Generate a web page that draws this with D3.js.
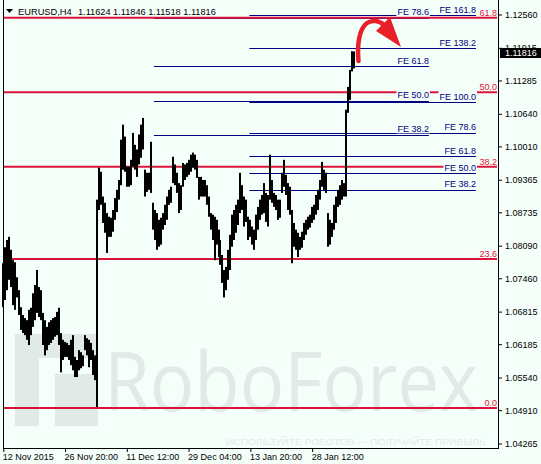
<!DOCTYPE html>
<html><head><meta charset="utf-8">
<script src="https://cdn.jsdelivr.net/npm/d3@7"></script>
<style>
body{margin:0;background:#F5FFFA}
svg{display:block}
text{font-family:"Liberation Sans",Arial,sans-serif}
</style>
</head><body><svg id="c" width="541" height="464"></svg>
<script>
// ---------- data ----------
const symbol = "EURUSD,H4";
const ohlc = [1.11624, 1.11846, 1.11518, 1.11816];
const lastPrice = 1.11816;

const highs = [
1.0775,1.0806,1.0820,1.0826,1.0801,1.0781,1.0777,1.0748,1.0723,1.0690,
1.0675,1.0669,1.0665,1.0685,1.0689,1.0717,1.0733,1.0762,1.0729,1.0723,
1.0679,1.0665,1.0652,1.0661,1.0665,1.0669,1.0671,1.0681,1.0689,1.0640,
1.0627,1.0623,1.0621,1.0617,1.0627,1.0636,1.0594,1.0588,1.0607,1.0603,
1.0597,1.0636,1.0630,1.0627,1.0621,1.0607,1.0597,1.0898,1.0960,1.0952,
1.0904,1.0892,1.0872,1.0865,1.0863,1.0878,1.0901,1.0917,1.0936,1.1014,
1.1043,1.1020,1.0962,1.0962,1.0975,1.1027,1.1004,1.0995,1.1024,1.1043,
1.1056,1.0956,1.0950,1.0950,1.1010,1.0892,1.0878,1.0872,1.0859,1.0863,
1.0872,1.0888,1.0904,1.0917,1.0923,1.0981,1.0966,1.0950,1.0930,1.0926,
1.0969,1.0966,1.0969,1.0975,1.0985,1.0989,1.0985,1.0975,1.0942,1.0942,
1.0936,1.0936,1.0926,1.0904,1.0872,1.0869,1.0865,1.0859,1.0840,1.0820,
1.0791,1.0762,1.0768,1.0801,1.0830,1.0869,1.0878,1.0888,1.0898,1.0950,
1.0926,1.0904,1.0898,1.0865,1.0859,1.0846,1.0840,1.0869,1.0884,1.0898,
1.0907,1.0930,1.0911,1.0907,1.0985,1.0936,1.0911,1.0907,1.0898,1.0898,
1.0950,1.0975,1.0946,1.0930,1.0923,1.0878,1.0853,1.0840,1.0834,1.0826,
1.0836,1.0853,1.0859,1.0865,1.0869,1.0884,1.0888,1.0907,1.0917,1.0936,
1.0971,1.0956,1.0950,1.0872,1.0859,1.0853,1.0888,1.0904,1.0917,1.0926,
1.0936,1.0930,1.1072,1.1116,1.1149,1.1185,1.11846];

const lows = [
1.0690,1.0704,1.0723,1.0743,1.0729,1.0694,1.0685,1.0709,1.0675,1.0646,
1.0640,1.0636,1.0627,1.0617,1.0636,1.0652,1.0665,1.0679,1.0671,1.0665,
1.0617,1.0597,1.0607,1.0617,1.0621,1.0627,1.0633,1.0636,1.0617,1.0564,
1.0588,1.0594,1.0594,1.0588,1.0578,1.0568,1.0555,1.0555,1.0568,1.0572,
1.0576,1.0607,1.0597,1.0574,1.0588,1.0559,1.0549,1.0497,1.0878,1.0888,
1.0853,1.0834,1.0795,1.0826,1.0826,1.0836,1.0859,1.0874,1.0898,1.0926,
1.0956,1.0952,1.0923,1.0923,1.0926,1.0962,1.0956,1.0942,1.0966,1.0979,
1.0995,1.0904,1.0913,1.0917,1.0911,1.0840,1.0820,1.0801,1.0807,1.0811,
1.0840,1.0849,1.0859,1.0888,1.0892,1.0930,1.0926,1.0911,1.0872,1.0878,
1.0923,1.0936,1.0942,1.0946,1.0952,1.0960,1.0956,1.0940,1.0898,1.0904,
1.0904,1.0904,1.0888,1.0865,1.0840,1.0820,1.0781,1.0811,1.0787,1.0772,
1.0737,1.0709,1.0723,1.0743,1.0762,1.0807,1.0820,1.0834,1.0849,1.0872,
1.0878,1.0846,1.0855,1.0820,1.0826,1.0811,1.0801,1.0820,1.0840,1.0859,
1.0869,1.0872,1.0855,1.0846,1.0898,1.0892,1.0884,1.0878,1.0859,1.0863,
1.0911,1.0923,1.0907,1.0878,1.0869,1.0775,1.0807,1.0801,1.0787,1.0801,
1.0805,1.0820,1.0830,1.0840,1.0844,1.0853,1.0859,1.0869,1.0878,1.0898,
1.0923,1.0917,1.0911,1.0807,1.0811,1.0826,1.0840,1.0853,1.0884,1.0888,
1.0898,1.0904,1.0904,1.1066,1.1091,1.1146,1.11518];

const yTicks = [1.12560,1.11915,1.11285,1.10640,1.10010,1.09365,1.08735,1.08090,1.07460,1.06815,1.06185,1.05540,1.04910,1.04265];
const xTickIdx = [0,31,62,93,124,155];
const xTickLabels = ["12 Nov 2015","26 Nov 20:00","11 Dec 12:00","29 Dec 04:00","13 Jan 20:00","28 Jan 12:00"];

// Fibonacci retracement (0% and 100% prices) and its levels
const retraceAnchors = [1.0495, 1.1716];
const retraceLevels = [0, 23.6, 38.2, 50.0, 61.8];
// Fibonacci expansion A
const feAAnchors = [1.0809, 1.1370];
const feALevels = [38.2, 50.0, 61.8, 78.6];
const feASpan = [75.6, 213.6];
// Fibonacci expansion B
const feBAnchors = [1.0813, 1.1086];
const feBLevels = [38.2, 50.0, 61.8, 78.6, 100.0, 138.2, 161.8];
const feBSpan = [123.5, 237.2];

// ---------- drawing ----------
const svg = d3.select("#c");
const BG = "#F5FFFA", RED = "#DC143C", NAVY = "#000080", ARROW = "#E8202A", WM = "#E2EAE7";
const L = 3, R = 498, B = 448;
svg.append("rect").attr("width",541).attr("height",464).attr("fill",BG);

const x = d3.scaleLinear().domain([0, highs.length - 1]).range([3.3, 354]);
const y = d3.scaleLinear().domain([1.04265, 1.12560]).range([443.5, 14.5]);

// watermark (scaled horizontally so its box stays inside the plot)
const wm = svg.append("g").attr("fill", WM);
wm.append("path").attr("d","M15,334 H98 V358 H39 V426 H15 Z");
wm.append("rect").attr("x",55).attr("y",374).attr("width",43).attr("height",52);
function fitText(g, txt, x0, yb, size, width, family) {
  const t = g.append("text").attr("font-size", size).text(txt);
  if (family) t.style("font-family", family);
  const w = t.node().getComputedTextLength();
  t.attr("transform", `translate(${x0},${yb}) scale(${width / w},1)`);
}
fitText(wm, "RoboForex", 104, 411, 82, 374, "'Open Sans',sans-serif");
fitText(wm, "ИСПОЛЬЗУЙТЕ РОБОТОВ — ПОЛУЧАЙТЕ ПРИБЫЛЬ", 226, 444.5, 9.5, 260, null);

const lvlPrice = (anch, p) => anch[0] + (anch[1] - anch[0]) * p / 100;

// blue FE lines
const gBlue = svg.append("g").attr("stroke", NAVY).attr("stroke-width", 1);
[[feAAnchors, feALevels, feASpan], [feBAnchors, feBLevels, feBSpan]].forEach(([anch, lv, span]) => {
  gBlue.selectAll(null).data(lv).join("line")
    .attr("x1", x(span[0])).attr("x2", x(span[1]))
    .attr("y1", d => Math.round(y(lvlPrice(anch, d))) + 0.5)
    .attr("y2", d => Math.round(y(lvlPrice(anch, d))) + 0.5);
});

// red retracement lines
svg.append("g").attr("stroke", RED).attr("stroke-width", 2)
  .selectAll("line").data(retraceLevels).join("line")
  .attr("x1", L).attr("x2", R - 1)
  .attr("y1", d => y(lvlPrice(retraceAnchors, d))).attr("y2", d => y(lvlPrice(retraceAnchors, d)));

const gBox = svg.append("g");
// bars
svg.append("g").attr("fill", "#000").selectAll("rect").data(highs).join("rect")
  .attr("x", (d, i) => Math.round(x(i)) - 1).attr("width", 2)
  .attr("y", d => y(d)).attr("height", (d, i) => Math.max(1, y(lows[i]) - y(d)));

// labels
const gTxt = svg.append("g").attr("font-size", 9);
function label(txt, xr, yb, color, box) {
  const t = gTxt.append("text").attr("x", xr).attr("y", yb).attr("text-anchor", "end").attr("fill", color).text(txt);
  if (box) {
    const w = t.node().getComputedTextLength();
    gBox.append("rect").attr("x", xr - w - 1).attr("y", yb - 9.5).attr("width", w + 2).attr("height", 10.5).attr("fill", BG);
  }
}
feALevels.forEach(d => label("FE " + d.toFixed(1), x(feASpan[1]), y(lvlPrice(feAAnchors, d)) - 2.5, NAVY, true));
feBLevels.forEach(d => label("FE " + d.toFixed(1), x(feBSpan[1]), y(lvlPrice(feBAnchors, d)) - 2.5, NAVY, true));
retraceLevels.forEach(d => label(d.toFixed(1), R - 1, y(lvlPrice(retraceAnchors, d)) - 2, RED, false));

// arrow
svg.append("path").attr("d", "M358.5,61 C357,45 359,29 367,23 C372,19.5 379,20.5 384,25")
  .attr("fill", "none").attr("stroke", ARROW).attr("stroke-width", 4.5).attr("stroke-linecap", "round");
svg.append("path").attr("d", "M376,31 L390,17 L401,47 Z").attr("fill", ARROW);

// frame
const gF = svg.append("g").attr("stroke", "#000").attr("stroke-width", 1);
gF.append("line").attr("x1", L + 0.5).attr("x2", L + 0.5).attr("y1", 0).attr("y2", B);
gF.append("line").attr("x1", R + 0.5).attr("x2", R + 0.5).attr("y1", 0).attr("y2", B + 0.5);
gF.append("line").attr("x1", L).attr("x2", R + 1).attr("y1", B + 0.5).attr("y2", B + 0.5);

// y axis
const yAxis = d3.axisRight(y).tickValues(yTicks).tickSize(4).tickPadding(3).tickFormat(d3.format(".5f"));
const gy = svg.append("g").attr("transform", `translate(${R},0)`).call(yAxis);
gy.select(".domain").remove();
gy.attr("font-size", 9).attr("font-family", null);
gy.selectAll("text").attr("fill", "#000");

// x axis
const xAxis = d3.axisBottom(x).tickValues(xTickIdx).tickSize(4).tickFormat((d, i) => xTickLabels[i]);
const gx = svg.append("g").attr("transform", `translate(0,${B})`).call(xAxis);
gx.select(".domain").remove();
gx.attr("font-size", 9).attr("font-family", null);
gx.selectAll("text").attr("text-anchor", "start").attr("x", -1).attr("y", 5.6).attr("fill", "#000");

// current price box
const yp = y(lastPrice);
svg.append("rect").attr("x", R + 2).attr("y", yp - 5).attr("width", 41).attr("height", 10).attr("fill", "#000");
svg.append("text").attr("x", R + 7).attr("y", yp + 3.3).attr("font-size", 9).attr("fill", "#fff").text(d3.format(".5f")(lastPrice));

// title
svg.append("path").attr("d", "M6,9 L13,9 L9.5,13 Z").attr("fill", "#000");
svg.append("text").attr("x", 18).attr("y", 14.5).attr("font-size", 9.3).text(symbol);
svg.append("text").attr("x", 78).attr("y", 14.5).attr("font-size", 9.2).text(ohlc.map(d3.format(".5f")).join(" "));
</script>
</body></html>
